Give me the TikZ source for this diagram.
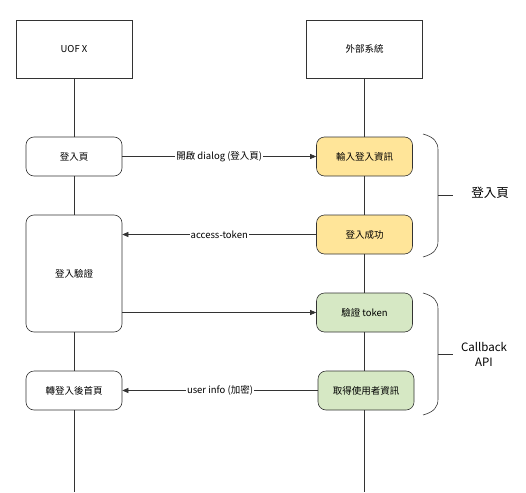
\documentclass[tikz,border=0pt]{standalone}
\usepackage{fontspec}
\setmainfont{Noto Sans CJK TC}
\usetikzlibrary{arrows.meta}
\definecolor{seqcolor0000}{RGB}{255,255,255}
\definecolor{seqcolor0001}{RGB}{51,51,51}
\definecolor{seqcolor0002}{RGB}{255,229,153}
\definecolor{seqcolor0003}{RGB}{214,232,196}
\begin{document}
\begin{tikzpicture}[yscale=-1
,pstyle1/.style={color=seqcolor0001,line width=0.6pt}
,pactor/.style={pstyle1,draw,fill=seqcolor0000,minimum width=116pt,minimum height=58pt,inner sep=0pt,text=black,font=\fontsize{9.5}{11}\selectfont}
,pbox/.style={pstyle1,draw,fill=seqcolor0000,rounded corners=8pt,minimum width=96pt,minimum height=39pt,inner sep=0pt,text=black,font=\fontsize{9.5}{11}\selectfont}
,pmsg/.style={pstyle1,-{Triangle[length=6pt,width=5pt]}}
,pmsglabel/.style={midway,fill=seqcolor0000,inner sep=1pt,text=black,font=\fontsize{9.5}{11}\selectfont}
]
\useasboundingbox (0pt,0pt) rectangle (526pt,492pt);
\node[pactor] (uofx) at (74pt,49pt) {UOF X};
\node[pactor] (ext) at (364.5pt,49pt) {外部系統};
\node[pbox] (login) at (74pt,156.5pt) {登入頁};
\node[pbox,minimum height=117pt] (verify) at (74pt,273.5pt) {登入驗證};
\node[pbox] (home) at (74pt,390.5pt) {轉登入後首頁};
\node[pbox,fill=seqcolor0002] (input) at (364.5pt,156.5pt) {輸入登入資訊};
\node[pbox,fill=seqcolor0002] (ok) at (364.5pt,234.5pt) {登入成功};
\node[pbox,fill=seqcolor0003] (vtok) at (364.5pt,312.5pt) {驗證 token};
\node[pbox,fill=seqcolor0003] (info) at (366pt,390.5pt) {取得使用者資訊};
\coordinate (uofxend) at (74pt,492pt);
\coordinate (extend) at (364.5pt,492pt);
\draw[pstyle1] (uofx.south) -- (login.north);
\draw[pstyle1] (login.south) -- (verify.north);
\draw[pstyle1] (verify.south) -- (home.north);
\draw[pstyle1] (home.south) -- (uofxend);
\draw[pstyle1] (ext.south) -- (input.north);
\draw[pstyle1] (input.south) -- (ok.north);
\draw[pstyle1] (ok.south) -- (vtok.north);
\draw[pstyle1] (vtok.south) -- (vtok.south |- info.north);
\draw[pstyle1] (info.south -| extend) -- (extend);
\draw[pmsg] (login.east) -- (input.west) node[pmsglabel]{開啟 dialog (登入頁)};
\draw[pmsg] (ok.west) -- (ok.west -| verify.east) node[pmsglabel]{access-token};
\draw[pmsg] (vtok.west -| verify.east) -- (vtok.west);
\draw[pmsg] (info.west) -- (home.east) node[pmsglabel]{user info (加密)};
\draw[pstyle1] (423pt,134pt) .. controls (434pt,137pt) and (438pt,142pt) .. (438pt,150pt) -- (438pt,241pt) .. controls (438pt,249pt) and (434pt,254pt) .. (423pt,257pt);
\draw[pstyle1] (438pt,195.5pt) -- (453pt,195.5pt);
\node (loginlbl) at (490pt,193pt)[text=black,font=\fontsize{12.5}{14}\selectfont]{登入頁};
\draw[pstyle1] (423pt,293pt) .. controls (434pt,296pt) and (438pt,301pt) .. (438pt,309pt) -- (438pt,399pt) .. controls (438pt,407pt) and (434pt,412pt) .. (423pt,415pt);
\draw[pstyle1] (438pt,354pt) -- (453pt,354pt);
\node (apilbl) at (484pt,354.5pt)[align=center,text=black,font=\fontsize{11.5}{15}\selectfont]{Callback\\API};
\end{tikzpicture}
\end{document}
